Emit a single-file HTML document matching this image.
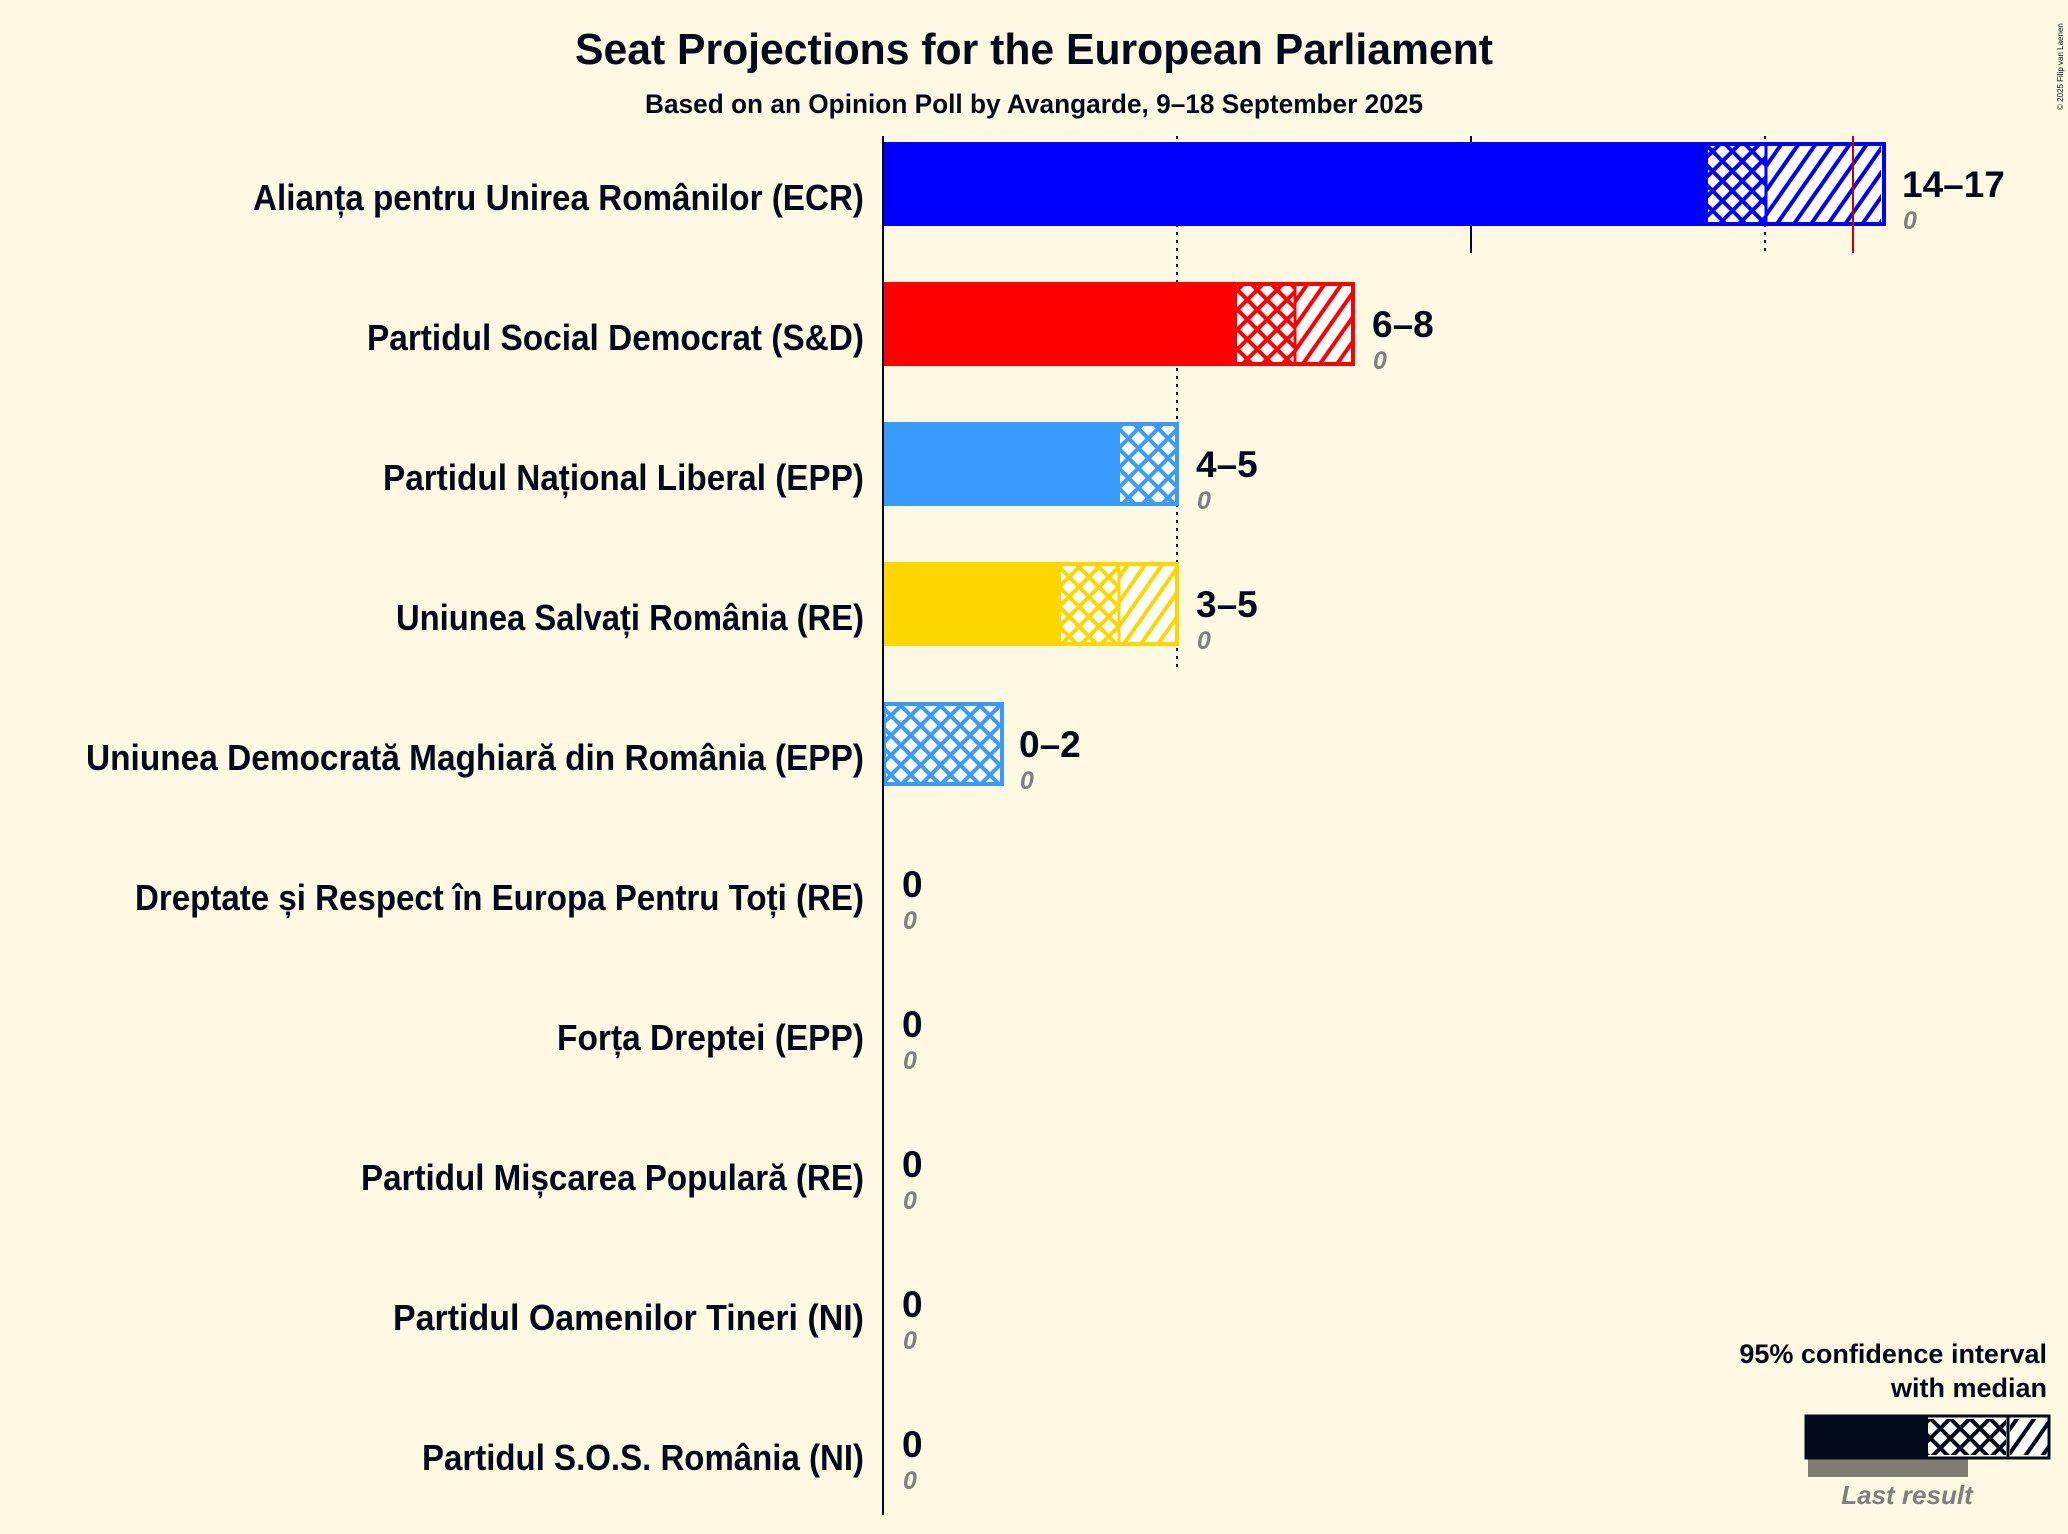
<!DOCTYPE html>
<html><head><meta charset="utf-8"><style>
html,body{margin:0;padding:0;background:#fff9e3;}
svg{display:block;font-family:"Liberation Sans",sans-serif;}
</style></head><body>
<svg width="2068" height="1534" viewBox="0 0 2068 1534" xmlns="http://www.w3.org/2000/svg">
<defs>
<pattern id="cB" width="14" height="14" patternUnits="userSpaceOnUse" patternTransform="rotate(45)"><rect width="14" height="14" fill="#fff"/><rect width="4" height="14" fill="#0000ff"/><rect width="14" height="4" fill="#0000ff"/></pattern>
<pattern id="hB" width="14" height="14" patternUnits="userSpaceOnUse" patternTransform="rotate(35)"><rect width="14" height="14" fill="#fff"/><rect width="4" height="14" fill="#0000ff"/></pattern>
<pattern id="cR" width="14" height="14" patternUnits="userSpaceOnUse" patternTransform="rotate(45)"><rect width="14" height="14" fill="#fff"/><rect width="4" height="14" fill="#ff0000"/><rect width="14" height="4" fill="#ff0000"/></pattern>
<pattern id="hR" width="14" height="14" patternUnits="userSpaceOnUse" patternTransform="rotate(35)"><rect width="14" height="14" fill="#fff"/><rect width="4" height="14" fill="#ff0000"/></pattern>
<pattern id="cL" width="14" height="14" patternUnits="userSpaceOnUse" patternTransform="rotate(45)"><rect width="14" height="14" fill="#fff"/><rect width="4" height="14" fill="#3a9bff"/><rect width="14" height="4" fill="#3a9bff"/></pattern>
<pattern id="cY" width="14" height="14" patternUnits="userSpaceOnUse" patternTransform="rotate(45)"><rect width="14" height="14" fill="#fff"/><rect width="4" height="14" fill="#ffd700"/><rect width="14" height="4" fill="#ffd700"/></pattern>
<pattern id="hY" width="14" height="14" patternUnits="userSpaceOnUse" patternTransform="rotate(35)"><rect width="14" height="14" fill="#fff"/><rect width="4" height="14" fill="#ffd700"/></pattern>
<pattern id="cK" width="14" height="14" patternUnits="userSpaceOnUse" patternTransform="rotate(45)"><rect width="14" height="14" fill="#fff"/><rect width="4" height="14" fill="#020b1c"/><rect width="14" height="4" fill="#020b1c"/></pattern>
<pattern id="hK" width="14" height="14" patternUnits="userSpaceOnUse" patternTransform="rotate(35)"><rect width="14" height="14" fill="#fff"/><rect width="4" height="14" fill="#020b1c"/></pattern>
</defs>
<rect width="2068" height="1534" fill="#fff9e3"/>
<text x="1034" y="64" text-anchor="middle" font-size="44" font-weight="bold" fill="#020b1c" textLength="918" lengthAdjust="spacingAndGlyphs">Seat Projections for the European Parliament</text>
<text x="1034" y="113" text-anchor="middle" font-size="27" font-weight="bold" fill="#020b1c" textLength="778" lengthAdjust="spacingAndGlyphs">Based on an Opinion Poll by Avangarde, 9–18 September 2025</text>
<text transform="translate(2063,110) rotate(-90)" font-size="8" fill="#020b1c">© 2025 Filip van Laenen</text>
<line x1="1177" y1="136" x2="1177" y2="670" stroke="#020b1c" stroke-width="2" stroke-dasharray="3,5"/>
<line x1="1471" y1="136" x2="1471" y2="253" stroke="#020b1c" stroke-width="2"/>
<line x1="1765" y1="136" x2="1765" y2="253" stroke="#020b1c" stroke-width="2" stroke-dasharray="3,5"/>
<rect x="882" y="142" width="824" height="84" fill="#0000ff"/>
<rect x="1708" y="146" width="57" height="76" fill="url(#cB)"/>
<rect x="1767" y="146" width="114" height="76" fill="url(#hB)"/>
<rect x="1706" y="144" width="178" height="80" fill="none" stroke="#0000ff" stroke-width="4"/>
<line x1="1766" y1="144" x2="1766" y2="224" stroke="#0000ff" stroke-width="3"/>
<line x1="1853" y1="136" x2="1853" y2="253" stroke="#cc0000" stroke-width="2"/>
<rect x="882" y="282" width="353" height="84" fill="#ff0000"/>
<rect x="1237" y="286" width="57" height="76" fill="url(#cR)"/>
<rect x="1296" y="286" width="55" height="76" fill="url(#hR)"/>
<rect x="1235" y="284" width="118" height="80" fill="none" stroke="#ff0000" stroke-width="4"/>
<line x1="1295" y1="284" x2="1295" y2="364" stroke="#ff0000" stroke-width="3"/>
<rect x="882" y="422" width="236" height="84" fill="#3a9bff"/>
<rect x="1120" y="426" width="55" height="76" fill="url(#cL)"/>
<rect x="1118" y="424" width="59" height="80" fill="none" stroke="#3a9bff" stroke-width="4"/>
<rect x="882" y="562" width="177" height="84" fill="#ffd700"/>
<rect x="1061" y="566" width="57" height="76" fill="url(#cY)"/>
<rect x="1120" y="566" width="55" height="76" fill="url(#hY)"/>
<rect x="1059" y="564" width="118" height="80" fill="none" stroke="#ffd700" stroke-width="4"/>
<line x1="1119" y1="564" x2="1119" y2="644" stroke="#ffd700" stroke-width="3"/>
<rect x="884" y="706" width="116" height="76" fill="url(#cL)"/>
<rect x="884" y="704" width="118" height="80" fill="none" stroke="#3a9bff" stroke-width="4"/>
<line x1="883" y1="136" x2="883" y2="1515" stroke="#020b1c" stroke-width="2"/>
<g font-size="36" font-weight="bold" fill="#020b1c" text-anchor="end" lengthAdjust="spacingAndGlyphs">
<text x="864" y="210" textLength="611" lengthAdjust="spacingAndGlyphs">Alianța pentru Unirea Românilor (ECR)</text>
<text x="864" y="350" textLength="497" lengthAdjust="spacingAndGlyphs">Partidul Social Democrat (S&amp;D)</text>
<text x="864" y="490" textLength="481" lengthAdjust="spacingAndGlyphs">Partidul Național Liberal (EPP)</text>
<text x="864" y="630" textLength="468" lengthAdjust="spacingAndGlyphs">Uniunea Salvați România (RE)</text>
<text x="864" y="770" textLength="778" lengthAdjust="spacingAndGlyphs">Uniunea Democrată Maghiară din România (EPP)</text>
<text x="864" y="910" textLength="729" lengthAdjust="spacingAndGlyphs">Dreptate și Respect în Europa Pentru Toți (RE)</text>
<text x="864" y="1050" textLength="307" lengthAdjust="spacingAndGlyphs">Forța Dreptei (EPP)</text>
<text x="864" y="1190" textLength="503" lengthAdjust="spacingAndGlyphs">Partidul Mișcarea Populară (RE)</text>
<text x="864" y="1330" textLength="471" lengthAdjust="spacingAndGlyphs">Partidul Oamenilor Tineri (NI)</text>
<text x="864" y="1470" textLength="442" lengthAdjust="spacingAndGlyphs">Partidul S.O.S. România (NI)</text>
</g>
<g font-size="37" font-weight="bold" fill="#020b1c">
<text x="1902" y="197">14–17</text>
<text x="1372" y="337">6–8</text>
<text x="1196" y="477">4–5</text>
<text x="1196" y="617">3–5</text>
<text x="1019" y="757">0–2</text>
<text x="902" y="897">0</text>
<text x="902" y="1037">0</text>
<text x="902" y="1177">0</text>
<text x="902" y="1317">0</text>
<text x="902" y="1457">0</text>
</g>
<g font-size="25" font-weight="bold" font-style="italic" fill="#7f7f7f">
<text x="1903" y="229">0</text>
<text x="1373" y="369">0</text>
<text x="1197" y="509">0</text>
<text x="1197" y="649">0</text>
<text x="1020" y="789">0</text>
<text x="903" y="929">0</text>
<text x="903" y="1069">0</text>
<text x="903" y="1209">0</text>
<text x="903" y="1349">0</text>
<text x="903" y="1489">0</text>
</g>
<g font-size="27" font-weight="bold" fill="#020b1c" text-anchor="end">
<text x="2047" y="1363">95% confidence interval</text>
<text x="2047" y="1397">with median</text>
</g>
<rect x="1808" y="1459" width="160" height="18" fill="#807d72"/>
<rect x="1805" y="1415" width="123" height="44" fill="#020b1c"/>
<rect x="1928" y="1419" width="78" height="36" fill="url(#cK)"/>
<rect x="2010" y="1419" width="38" height="36" fill="url(#hK)"/>
<rect x="1806" y="1416" width="243" height="42" fill="none" stroke="#020b1c" stroke-width="3"/>
<line x1="2008" y1="1416" x2="2008" y2="1458" stroke="#020b1c" stroke-width="3"/>
<text x="1907" y="1504" text-anchor="middle" font-size="26" font-style="italic" font-weight="bold" fill="#7f7f7f">Last result</text>
</svg>
</body></html>
